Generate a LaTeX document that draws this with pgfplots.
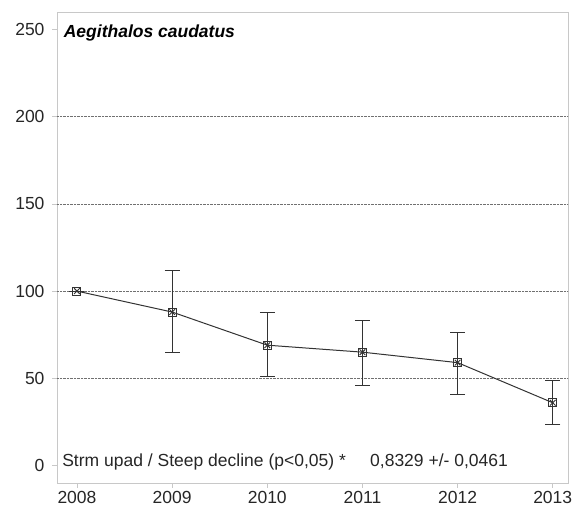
\documentclass[border=0pt]{standalone}
\usepackage{fontspec}
\setmainfont{Liberation Sans}
\usepackage{pgfplots}
\pgfplotsset{compat=1.18}
\definecolor{linegray}{HTML}{333333}
\definecolor{framegray}{HTML}{C8C8C8}
\definecolor{gridgray}{HTML}{707070}
\begin{document}
\begin{tikzpicture}
\begin{axis}[
    scale only axis,
    width=511pt, height=471pt,
    xmin=2007.79, xmax=2013.16,
    ymin=-10, ymax=260,
    xtick={2008,...,2013},
    ytick={0,50,...,250},
    extra y ticks={50,100,150,200},
    extra y tick labels={},
    extra y tick style={grid=major, major tick length=0pt},
    grid style={densely dotted, gridgray, line width=0.7pt},
    axis line style={framegray, line width=0.9pt},
    tick style={framegray, line width=0.7pt},
    tick align=outside,
    major tick length=5pt,
    xtick pos=bottom, ytick pos=left,
    /pgf/number format/assume math mode=true,
    /pgf/number format/1000 sep={},
    tick label style={font=\fontsize{17.5}{20}\selectfont, text=black!85},
    yticklabel style={xshift=-4pt},
    clip=false,
]
\addplot[linegray, line width=1pt, mark=square, mark size=4pt,
    mark options={solid, line width=1pt},
    error bars/.cd, y dir=both, y explicit,
    error bar style={linegray, line width=1pt},
    error mark options={rotate=90, mark size=7.5pt, linegray, line width=1pt}]
coordinates {
(2008,100) +- (0,0)
(2009,88) += (0,24) -= (0,23)
(2010,69) += (0,19) -= (0,18)
(2011,65) += (0,18) -= (0,19)
(2012,59) += (0,17) -= (0,18)
(2013,36) += (0,13) -= (0,12.5)
};
\addplot[only marks, linegray, mark=x, mark size=4pt,
    mark options={line width=0.9pt}]
coordinates {(2008,100) (2009,88) (2010,69) (2011,65) (2012,59) (2013,36)};
\node[anchor=base west, font=\fontsize{17.5}{20}\selectfont\bfseries\itshape, inner sep=0pt]
    at (rel axis cs:0.013,0.945) {Aegithalos caudatus};
\node[anchor=base west, font=\fontsize{17.5}{20}\selectfont, text=black!85, inner sep=0pt]
    at (rel axis cs:0.01,0.034) {Strm upad / Steep decline (p<0,05) *};
\node[anchor=base west, font=\fontsize{17.5}{20}\selectfont, text=black!85, inner sep=0pt]
    at (rel axis cs:0.6125,0.034) {0,8329 +/- 0,0461};
\end{axis}
\pgfresetboundingbox
\path (current axis.south west) ++(-57pt,-30pt) rectangle ++(576pt,513pt);
\end{tikzpicture}
\end{document}
